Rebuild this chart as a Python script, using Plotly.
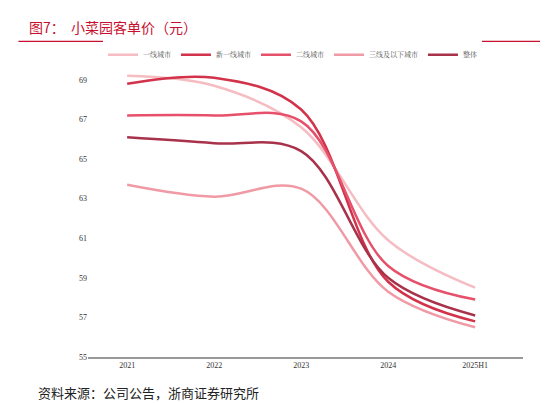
import plotly.graph_objects as go

years = ["2021", "2022", "2023", "2024", "2025H1"]
names = ["一线城市", "新一线城市", "二线城市", "三线及以下城市", "整体"]
tier1 = [69.2, 68.7, 66.6, 60.9, 58.5]
newtier1 = [68.8, 69.1, 67.5, 58.8, 56.8]
tier2 = [67.2, 67.2, 66.9, 59.6, 57.9]
tier3 = [63.7, 63.1, 63.5, 58.3, 56.5]
overall = [66.1, 65.8, 65.4, 59.0, 57.1]
series = [tier1, newtier1, tier2, tier3, overall]
colors = ["#f5bcc1", "#d2324a", "#e6506a", "#f09aa6", "#a8324a"]

fig = go.Figure()
for n, v, c in zip(names, series, colors):
    fig.add_trace(go.Scatter(x=years, y=v, name=n, mode="lines",
                             line=dict(color=c, width=2.5, shape="spline", smoothing=1.0)))

fig.update_layout(
    width=548, height=403, plot_bgcolor="white", paper_bgcolor="white",
    margin=dict(l=80, r=33, t=54, b=54, autoexpand=False),
    font=dict(family="Noto Serif CJK SC, Noto Sans CJK SC", size=9, color="#333"),
    showlegend=True,
    legend=dict(orientation="h", x=0.47, xanchor="center", y=1.025, yanchor="middle",
                font=dict(size=7, color="#555"), itemwidth=30, tracegroupgap=0),
    xaxis=dict(showline=True, linecolor="#999", linewidth=1.5, ticks="", showgrid=False,
               range=[-0.45, 4.55], tickfont=dict(size=8, family="Liberation Serif", color="#333")),
    yaxis=dict(range=[55, 69.9], tickvals=[55, 57, 59, 61, 63, 65, 67, 69], showgrid=False,
               zeroline=False, showline=False, tickfont=dict(size=8, family="Liberation Serif", color="#333")),
    annotations=[
        dict(text="图7：  小菜园客单价（元）", xref="paper", yref="paper", x=-0.14, y=1.12,
             xanchor="left", yanchor="middle", showarrow=False,
             font=dict(size=14, color="#c8102e", family="Noto Sans CJK SC")),
        dict(text="资料来源：公司公告，浙商证券研究所", xref="paper", yref="paper", x=-0.12, y=-0.12,
             xanchor="left", yanchor="middle", showarrow=False,
             font=dict(size=13, color="#222", family="Noto Sans CJK SC")),
    ],
    shapes=[dict(type="line", xref="paper", yref="paper", x0=-0.16, x1=1.06, y0=1.07, y1=1.07,
                 line=dict(color="#c8102e", width=1.2))],
)
fig.write_html("out.html")
